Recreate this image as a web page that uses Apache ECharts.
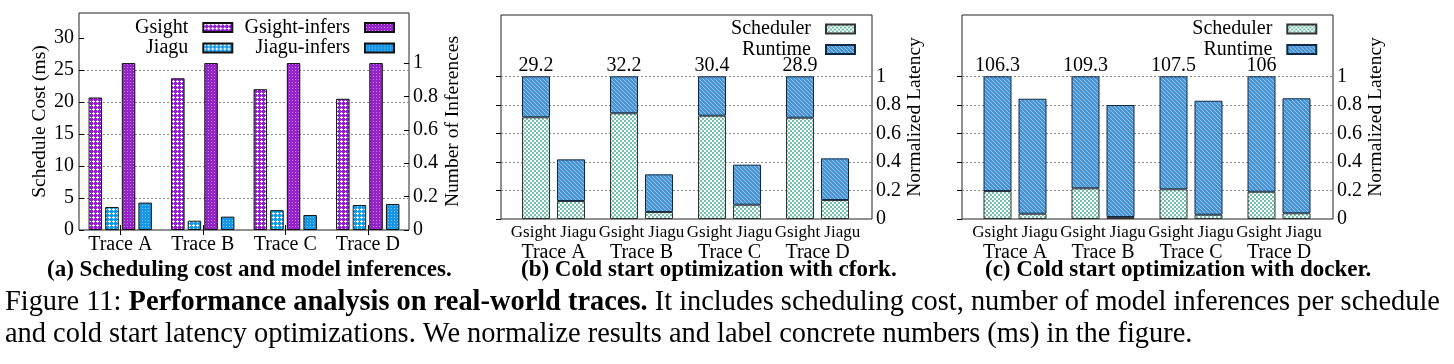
<!DOCTYPE html>
<html><head><meta charset="utf-8">
<script src="https://cdn.jsdelivr.net/npm/echarts@6/dist/echarts.min.js"></script>
<style>html,body{margin:0;padding:0;background:#fff}#c{width:1454px;height:364px}</style>
</head><body><div id="c"></div>
<script>
// ---------- data ----------
const traces = ['Trace A', 'Trace B', 'Trace C', 'Trace D'];
const systems = ['Gsight', 'Jiagu'];
// (a) scheduling cost (ms) and normalized number of inferences
const gsightCost = [20.7, 23.7, 22.0, 20.5];
const jiaguCost = [3.6, 1.45, 3.1, 3.9];
const gsightInfers = [1, 1, 1, 1];
const jiaguInfers = [0.164, 0.08, 0.09, 0.156];
// (b) cfork, normalized latency
const cforkGsightSched = [0.713, 0.741, 0.724, 0.71];
const cforkGsightTotal = [1, 1, 1, 1];
const cforkJiaguSched = [0.126, 0.049, 0.10, 0.133];
const cforkJiaguTotal = [0.418, 0.313, 0.381, 0.425];
const cforkLabels = ['29.2', '32.2', '30.4', '28.9'];
// (c) docker, normalized latency
const dockerGsightSched = [0.196, 0.215, 0.208, 0.191];
const dockerGsightTotal = [1, 1, 1, 1];
const dockerJiaguSched = [0.037, 0.014, 0.03, 0.04];
const dockerJiaguTotal = [0.843, 0.799, 0.829, 0.846];
const dockerLabels = ['106.3', '109.3', '107.5', '106'];
// tick labels
const latencyTicks = [0, 0.2, 0.4, 0.6, 0.8, 1];
const inferTicks = [0, 0.2, 0.4, 0.6, 0.8, 1];

// ---------- styles ----------
const FONT = 'Liberation Serif';
function pattern(size, bg, fg, px) {
  const c = document.createElement('canvas');
  c.width = c.height = size;
  const g = c.getContext('2d');
  g.fillStyle = bg; g.fillRect(0, 0, size, size);
  g.fillStyle = fg;
  px.forEach(p => g.fillRect(p[0], p[1], p[2] || 1, p[3] || 1));
  return { image: c, repeat: 'repeat' };
}
const dots = [[1, 0], [0, 1], [1, 1], [2, 1], [1, 2]];
const checker = [[0, 0, 2, 2], [2, 2, 2, 2]];
const P = {
  gsight: pattern(4, '#921fd2', '#ffffff', dots),
  gsightInf: pattern(3, '#9424c8', '#c380e8', [[1, 1]]),
  jiagu: pattern(4, '#1599ea', '#ffffff', dots),
  jiaguInf: pattern(3, '#1696e4', '#7cc6f6', [[1, 1]]),
  sched: pattern(4, '#ffffff', '#74c2ad', checker),
  runtime: pattern(4, '#4a94d4', '#8fc2ec', [[0, 0], [1, 1], [2, 2], [3, 3]])
};
const gridDot = { type: [2, 2], width: 1 };
const G = '#8a8a8a', T = 'rgba(0,0,0,0)';

function stackRest(total, sched) { return total.map((t, i) => +(t - sched[i]).toFixed(3)); }

const chart = echarts.init(document.getElementById('c'), null, { renderer: 'canvas' });

const labelText = { color: '#000', fontFamily: FONT, fontSize: 20 };

function legendItem(name, right, top) {
  return {
    data: [name], right: right, top: top, orient: 'horizontal', align: 'right',
    padding: 0, itemWidth: 29, itemHeight: 9, icon: 'rect', selectedMode: false,
    formatter: n => n + '  ',
    textStyle: { color: '#000', fontFamily: FONT, fontSize: 20 }
  };
}

function latencyPanel(frameGrid, dataGrid) {
  return {
    xAxis: [
      { gridIndex: frameGrid, type: 'value', min: 0, max: 1, show: false },
      {
        gridIndex: dataGrid, type: 'category', data: traces,
        axisLine: { show: false }, axisTick: { show: false },
        axisLabel: {
          interval: 0, margin: 4, color: '#000', fontFamily: FONT,
          formatter: v => '{s|' + systems.join(' ') + '}\n{t|' + v + '}',
          rich: {
            s: { fontSize: 17, lineHeight: 19, fontFamily: FONT, color: '#000' },
            t: { fontSize: 20, lineHeight: 21, fontFamily: FONT, color: '#000' }
          }
        }
      }
    ],
    yAxis: [
      {
        gridIndex: frameGrid, type: 'value', position: 'right', min: 0, max: 1.43, interval: 0.2,
        axisLine: { show: false },
        axisTick: { show: true, inside: true, length: 5, customValues: latencyTicks, lineStyle: { color: '#000' } },
        axisLabel: { show: true, customValues: latencyTicks, margin: 4, ...labelText },
        splitLine: { show: true, showMinLine: true, showMaxLine: true, lineStyle: { ...gridDot, color: [T, G, G, G, G, G, T, T, T, T] } },
        name: 'Normalized Latency', nameLocation: 'middle', nameRotate: 90, nameGap: 31,
        nameTextStyle: { color: '#000', fontFamily: FONT, fontSize: 19.5 }
      },
      { gridIndex: dataGrid, type: 'value', min: 0, max: 1.43, show: false }
    ]
  };
}

const pb = latencyPanel(1, 2);
const pc = latencyPanel(3, 4);

const barBorder = { borderColor: '#111', borderWidth: 1 };
const schedStyle = { color: P.sched, borderColor: '#333', borderWidth: 1 };
const runStyle = { color: P.runtime, borderColor: '#0e2a48', borderWidth: 1 };

function latencySeries(xi, yi, prefix, gS, gT, jS, jT, labels) {
  return [
    { name: 'Scheduler', type: 'bar', xAxisIndex: xi, yAxisIndex: yi, stack: prefix + 'G', barWidth: 28, barGap: '25%', data: gS, itemStyle: schedStyle },
    {
      name: 'Runtime', type: 'bar', xAxisIndex: xi, yAxisIndex: yi, stack: prefix + 'G', barWidth: 28, barGap: '25%', data: stackRest(gT, gS), itemStyle: runStyle,
      label: { show: true, position: 'top', distance: 1, formatter: p => labels[p.dataIndex], ...labelText }
    },
    { name: 'Scheduler', type: 'bar', xAxisIndex: xi, yAxisIndex: yi, stack: prefix + 'J', barWidth: 28, barGap: '25%', data: jS, itemStyle: schedStyle },
    { name: 'Runtime', type: 'bar', xAxisIndex: xi, yAxisIndex: yi, stack: prefix + 'J', barWidth: 28, barGap: '25%', data: stackRest(jT, jS), itemStyle: runStyle }
  ];
}

const subFont = 'bold 23px "Liberation Serif"';
const capSize = 28.4;

const option = {
  animation: false,
  backgroundColor: '#fff',
  textStyle: { fontFamily: FONT },
  grid: [
    { left: 79, top: 13, width: 330, height: 217, show: true, borderColor: '#222', borderWidth: 1, backgroundColor: 'transparent', outerBoundsMode: 'none', containLabel: false },
    { left: 501, top: 15, width: 371, height: 204, show: true, borderColor: '#222', borderWidth: 1, backgroundColor: 'transparent', outerBoundsMode: 'none', containLabel: false },
    { left: 509.5, top: 15, width: 352, height: 204, outerBoundsMode: 'none', containLabel: false },
    { left: 962, top: 15, width: 371, height: 204, show: true, borderColor: '#222', borderWidth: 1, backgroundColor: 'transparent', outerBoundsMode: 'none', containLabel: false },
    { left: 971, top: 15, width: 352, height: 204, outerBoundsMode: 'none', containLabel: false }
  ],
  xAxis: [
    {
      gridIndex: 0, type: 'category', data: traces, position: 'bottom',
      axisLine: { show: false },
      axisTick: { show: true, inside: true, alignWithLabel: true, length: 5, lineStyle: { color: '#000' } },
      axisLabel: { interval: 0, margin: 5, ...labelText }
    },
    {
      gridIndex: 0, type: 'category', data: traces, position: 'top',
      axisLine: { show: false }, axisLabel: { show: false },
      axisTick: { show: true, inside: true, alignWithLabel: true, length: 5, lineStyle: { color: '#000' } }
    },
    ...pb.xAxis, ...pc.xAxis
  ],
  yAxis: [
    {
      gridIndex: 0, type: 'value', position: 'left', min: 0, max: 33.9, interval: 5,
      axisLine: { show: false },
      axisTick: { show: true, inside: true, length: 5, lineStyle: { color: '#000' } },
      axisLabel: { showMaxLabel: false, margin: 5, ...labelText },
      splitLine: { show: true, showMinLine: true, showMaxLine: true, lineStyle: { ...gridDot, color: [T, G, G, G, G, G, T, T, T] } },
      name: 'Schedule Cost (ms)', nameLocation: 'middle', nameRotate: 90, nameGap: 24,
      nameTextStyle: { color: '#000', fontFamily: FONT, fontSize: 19.5 }
    },
    {
      gridIndex: 0, type: 'value', position: 'right', min: 0, max: 1.3, interval: 0.2,
      axisLine: { show: false },
      axisTick: { show: true, inside: true, length: 5, customValues: inferTicks, lineStyle: { color: '#000' } },
      axisLabel: { customValues: inferTicks, margin: 4, ...labelText },
      splitLine: { show: false },
      name: 'Number of Inferences', nameLocation: 'middle', nameRotate: 90, nameGap: 34,
      nameTextStyle: { color: '#000', fontFamily: FONT, fontSize: 19.5 }
    },
    ...pb.yAxis, ...pc.yAxis
  ],
  legend: [
    legendItem('Gsight', 1220.7, 17.5),
    legendItem('Gsight-infers', 1059, 17.5),
    legendItem('Jiagu', 1220.7, 38),
    legendItem('Jiagu-infers', 1059, 38),
    legendItem('Scheduler', 598, 19),
    legendItem('Runtime', 598, 39.5),
    legendItem('Scheduler', 136.7, 19),
    legendItem('Runtime', 136.7, 39.5)
  ],
  series: [
    { name: 'Gsight', type: 'bar', xAxisIndex: 0, yAxisIndex: 0, barWidth: 13.5, barGap: '23%', data: gsightCost, itemStyle: { color: P.gsight, ...barBorder } },
    { name: 'Jiagu', type: 'bar', xAxisIndex: 0, yAxisIndex: 0, barWidth: 13.5, barGap: '23%', data: jiaguCost, itemStyle: { color: P.jiagu, ...barBorder } },
    { name: 'Gsight-infers', type: 'bar', xAxisIndex: 0, yAxisIndex: 1, barWidth: 13.5, barGap: '23%', data: gsightInfers, itemStyle: { color: P.gsightInf, ...barBorder } },
    { name: 'Jiagu-infers', type: 'bar', xAxisIndex: 0, yAxisIndex: 1, barWidth: 13.5, barGap: '23%', data: jiaguInfers, itemStyle: { color: P.jiaguInf, ...barBorder } },
    ...latencySeries(3, 3, 'b', cforkGsightSched, cforkGsightTotal, cforkJiaguSched, cforkJiaguTotal, cforkLabels),
    ...latencySeries(5, 5, 'c', dockerGsightSched, dockerGsightTotal, dockerJiaguSched, dockerJiaguTotal, dockerLabels)
  ],
  graphic: [
    { type: 'text', left: 47, top: 259, style: { text: '(a) Scheduling cost and model inferences.', font: subFont, fill: '#000' } },
    { type: 'text', left: 521, top: 259, style: { text: '(b) Cold start optimization with cfork.', font: subFont, fill: '#000' } },
    { type: 'text', left: 985, top: 259, style: { text: '(c) Cold start optimization with docker.', font: subFont, fill: '#000' } },
    {
      type: 'text', left: 5, top: 289,
      style: {
        text: '{n|Figure 11: }{b|Performance analysis on real-world traces.}{n| It includes scheduling cost, number of model inferences per schedule}',
        rich: {
          n: { fontFamily: FONT, fontSize: capSize, fill: '#000' },
          b: { fontFamily: FONT, fontSize: capSize, fontWeight: 'bold', fill: '#000' }
        }
      }
    },
    {
      type: 'text', left: 5, top: 321,
      style: { text: 'and cold start latency optimizations. We normalize results and label concrete numbers (ms) in the figure.', font: capSize + 'px "Liberation Serif"', fill: '#000' }
    }
  ]
};
chart.setOption(option);
</script>
</body></html>
